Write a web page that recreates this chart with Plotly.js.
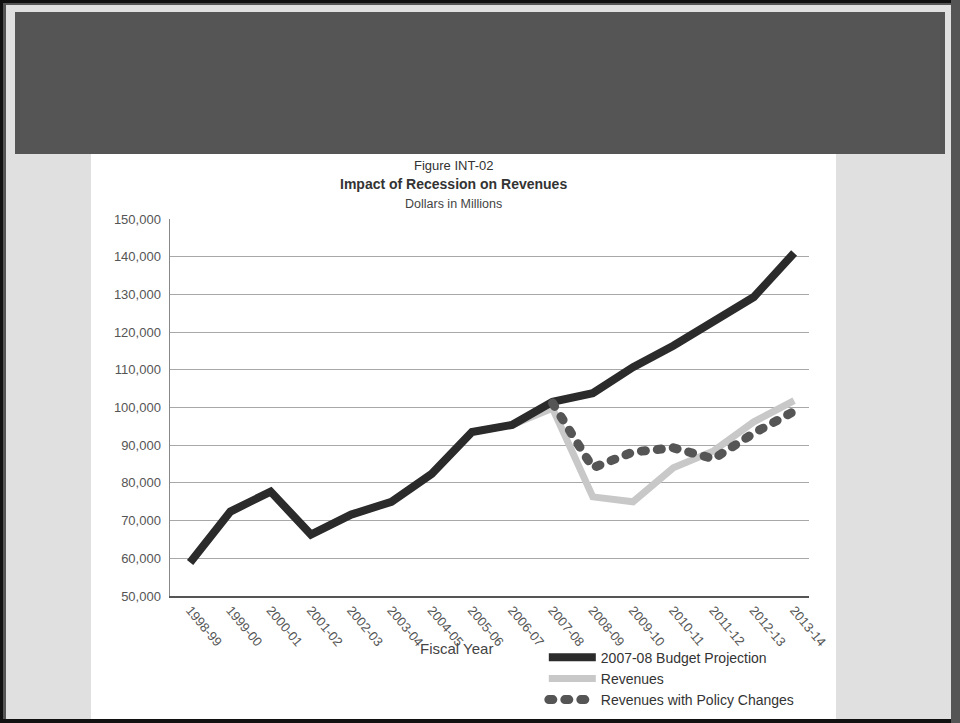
<!DOCTYPE html>
<html>
<head>
<meta charset="utf-8">
<script src="https://cdn.plot.ly/plotly-3.0.1.min.js"></script>
<style>
  html, body { margin:0; padding:0; width:960px; height:723px; overflow:hidden; background:#e0e0e0; }
  #frame { position:absolute; left:0; top:0; width:960px; height:723px; background:#e0e0e0; }
  .blk { position:absolute; }
  #chart { position:absolute; left:0; top:0; width:960px; height:780px; }
  #border { position:absolute; left:0; top:719px; width:960px; height:4px; background:#111; z-index:5; }
  #rstrip { position:absolute; left:951px; top:0; width:9px; height:723px; background:#555; z-index:5; }
</style>
</head>
<body>
<div id="frame">
  <div class="blk" style="left:0;top:0;width:960px;height:3px;background:#111;"></div>
  <div class="blk" style="left:0;top:0;width:3px;height:723px;background:#111;"></div>
  <div class="blk" style="left:3px;top:3px;width:3px;height:716px;background:#555;"></div>
  <div class="blk" style="left:3px;top:3px;width:948px;height:2px;background:#555;"></div>
  <div class="blk" style="left:15px;top:12px;width:930px;height:142px;background:#555;"></div>
  <div class="blk" style="left:91px;top:154px;width:745px;height:565px;background:#fff;"></div>
</div>
<div id="chart"></div>
<div id="border"></div>
<div id="rstrip"></div>
<script>
const years = ["1998-99","1999-00","2000-01","2001-02","2002-03","2003-04","2004-05","2005-06","2006-07","2007-08","2008-09","2009-10","2010-11","2011-12","2012-13","2013-14"];
const budgetProjection = [58900,72400,77700,66300,71600,75000,82400,93500,95400,101500,103800,110700,116400,122900,129300,141000];
const revenues = [58900,72400,77700,66300,71600,75000,82400,93500,95400,99800,76300,75000,84000,88500,96200,101800];
const revenuesPolicy = [null,null,null,null,null,null,null,null,null,101200,84000,88200,89300,86400,93200,99000];
const yTicks = [50000,60000,70000,80000,90000,100000,110000,120000,130000,140000,150000];

const FONT = '"Liberation Sans", Arial, sans-serif';

const traces = [
  { x: years, y: revenues, name: "Revenues", type: "scatter", mode: "lines",
    line: { color: "#c8c8c8", width: 7 }, legendrank: 2 },
  { x: years, y: budgetProjection, name: "2007-08 Budget Projection", type: "scatter", mode: "lines",
    line: { color: "#2b2b2b", width: 8 }, legendrank: 1 },
  { x: years, y: revenuesPolicy, name: "Revenues with Policy Changes", type: "scatter", mode: "lines",
    line: { color: "#555555", width: 9, dash: "4px,12px" }, legendrank: 3 }
];

const layout = {
  width: 960, height: 780,
  paper_bgcolor: "rgba(0,0,0,0)", plot_bgcolor: "rgba(0,0,0,0)",
  margin: { l: 170, r: 151, t: 219, b: 184, pad: 0 },
  showlegend: true,
  font: { family: FONT, color: "#444", size: 13 },
  xaxis: {
    type: "category", range: [-0.5, 15.37],
    tickangle: 50, tickfont: { size: 13, color: "#555" },
    showgrid: false, showline: true, linecolor: "#555", linewidth: 1.5,
    ticks: "", zeroline: false, fixedrange: true
  },
  yaxis: {
    range: [50000, 150000], tickvals: yTicks,
    tickformat: ",d", tickfont: { size: 13, color: "#555" },
    showgrid: true, gridcolor: "#a8a8a8", gridwidth: 1,
    showline: true, linecolor: "#888", linewidth: 1.5,
    ticks: "", ticklabelstandoff: 5, zeroline: false, fixedrange: true
  },
  legend: {
    x: 0.585, xanchor: "left", y: -0.121, yanchor: "top",
    bgcolor: "rgba(0,0,0,0)", font: { size: 14, color: "#333" },
    itemwidth: 47, tracegroupgap: 0, traceorder: "normal"
  },
  annotations: [
    { text: "Figure INT-02", xref: "paper", yref: "paper", x: 0.4436, y: 1.143, showarrow: false,
      font: { size: 13, color: "#333" }, xanchor: "center", yanchor: "middle" },
    { text: "<b>Impact of Recession on Revenues</b>", xref: "paper", yref: "paper", x: 0.4436, y: 1.093, showarrow: false,
      font: { size: 14, color: "#333" }, xanchor: "center", yanchor: "middle" },
    { text: "Dollars in Millions", xref: "paper", yref: "paper", x: 0.4436, y: 1.040, showarrow: false,
      font: { size: 12.5, color: "#444" }, xanchor: "center", yanchor: "middle" },
    { text: "Fiscal Year", xref: "paper", yref: "paper", x: 0.448, y: -0.138, showarrow: false,
      font: { size: 15, color: "#444" }, xanchor: "center", yanchor: "middle" }
  ]
};

Plotly.newPlot("chart", traces, layout, { displayModeBar: false, staticPlot: true }).then(function (gd) {
  // round the ends of the dotted dashes so they look like the oval dots of the original
  gd.querySelectorAll("path.js-line, .legendlines path").forEach(function (p) {
    if ((p.style.strokeDasharray || "").indexOf("4") === 0) {
      p.style.strokeLinecap = "round";
    }
  });
});
</script>
</body>
</html>
